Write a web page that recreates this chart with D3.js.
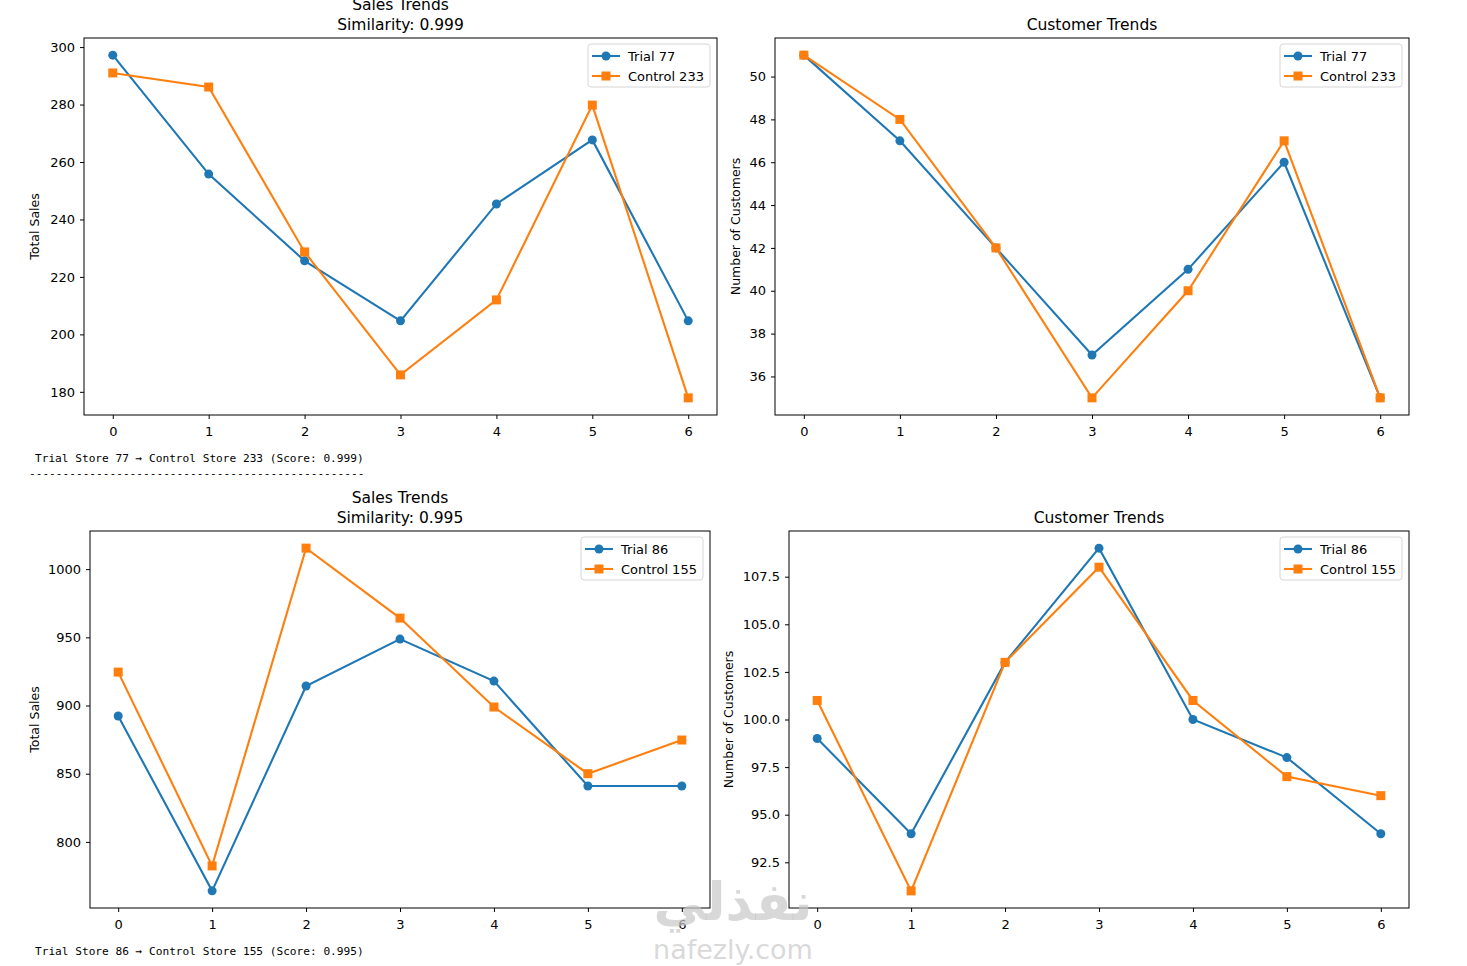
<!DOCTYPE html>
<html>
<head>
<meta charset="utf-8">
<script src="https://cdn.jsdelivr.net/npm/d3@7"></script>
<style>
  body { margin: 0; background: #fff; }
  .tick text { font-family: "DejaVu Sans", sans-serif; font-size: 13px; fill: #000; }
  .tick line { stroke: #000; }
  .domain { display: none; }
  .title { font-family: "DejaVu Sans", sans-serif; font-size: 15.5px; text-anchor: middle; }
  .ylab { font-family: "DejaVu Sans", sans-serif; font-size: 12.5px; text-anchor: middle; }
  .legtxt { font-family: "DejaVu Sans", sans-serif; font-size: 13px; }
  .mono { font-family: "DejaVu Sans Mono", monospace; font-size: 11.15px; }
</style>
</head>
<body>
<script>
// weeks on the x axis
const weeks = [0, 1, 2, 3, 4, 5, 6];

// pair 1: trial 77 vs control 233
const sales77 = [297.2, 255.8, 225.6, 204.7, 245.4, 267.7, 204.7];
const sales233 = [291.0, 286.1, 228.7, 185.9, 212.0, 279.8, 177.9];
const cust77 = [51, 47, 42, 37, 41, 46, 35];
const cust233 = [51, 48, 42, 35, 40, 47, 35];

// pair 2: trial 86 vs control 155
const sales86 = [892.3, 764.1, 914.3, 948.7, 917.9, 841.0, 841.0];
const sales155 = [924.5, 782.4, 1015.4, 964.1, 898.9, 850.0, 874.7];
const cust86 = [99, 94, 103, 109, 100, 98, 94];
const cust155 = [101, 91, 103, 108, 101, 97, 96];

// tick labels
const salesTicks1 = [180, 200, 220, 240, 260, 280, 300];
const custTicks1 = [36, 38, 40, 42, 44, 46, 48, 50];
const salesTicks2 = [800, 850, 900, 950, 1000];
const custTicks2 = [92.5, 95.0, 97.5, 100.0, 102.5, 105.0, 107.5];

const blue = '#1f77b4';
const orange = '#ff7f0e';

const svg = d3.select('body')
    .append('svg')
    .attr('width', 1467)
    .attr('height', 966);

// one panel = one matplotlib axes
function drawPanel(p) {
    const g = svg.append('g');

    const xScale = d3.scaleLinear()
        .domain([-0.3, 6.3])
        .range([p.left, p.right]);

    // 5% margin like matplotlib
    const ext = d3.extent(p.trial.concat(p.control));
    const pad = (ext[1] - ext[0]) * 0.05;
    const yScale = d3.scaleLinear()
        .domain([ext[0] - pad, ext[1] + pad])
        .range([p.bottom, p.top]);

    const xAxis = d3.axisBottom(xScale).tickValues(weeks).tickSize(4).tickPadding(8).tickFormat(d3.format('d'));
    g.append('g')
        .attr('transform', 'translate(0,' + p.bottom + ')')
        .call(xAxis);

    const yAxis = d3.axisLeft(yScale).tickValues(p.ticks).tickSize(4).tickPadding(5).tickFormat(p.fmt);
    g.append('g')
        .attr('transform', 'translate(' + p.left + ',0)')
        .call(yAxis);

    // frame
    g.append('rect')
        .attr('x', p.left)
        .attr('y', p.top)
        .attr('width', p.right - p.left)
        .attr('height', p.bottom - p.top)
        .attr('fill', 'none')
        .attr('stroke', '#000')
        .attr('stroke-width', 1);

    const line = d3.line()
        .x((d, i) => xScale(weeks[i]))
        .y((d) => yScale(d));

    // trial line + circles
    g.append('path')
        .attr('d', line(p.trial))
        .attr('fill', 'none')
        .attr('stroke', blue)
        .attr('stroke-width', 2.1);
    g.selectAll('circle.t')
        .data(p.trial)
        .enter()
        .append('circle')
        .attr('cx', (d, i) => xScale(weeks[i]))
        .attr('cy', (d) => yScale(d))
        .attr('r', 4.5)
        .attr('fill', blue);

    // control line + squares
    g.append('path')
        .attr('d', line(p.control))
        .attr('fill', 'none')
        .attr('stroke', orange)
        .attr('stroke-width', 2.1);
    g.selectAll('rect.c')
        .data(p.control)
        .enter()
        .append('rect')
        .attr('x', (d, i) => xScale(weeks[i]) - 4.5)
        .attr('y', (d) => yScale(d) - 4.5)
        .attr('width', 9)
        .attr('height', 9)
        .attr('fill', orange);

    // titles
    const cx = (p.left + p.right) / 2;
    p.title.forEach(function (t, i) {
        g.append('text')
            .attr('class', 'title')
            .attr('x', cx)
            .attr('y', p.top - 8 - (p.title.length - 1 - i) * 20)
            .text(t);
    });

    // y label
    g.append('text')
        .attr('class', 'ylab')
        .attr('transform', `translate(${p.ylabX}, ${(p.top + p.bottom) / 2}) rotate(-90)`)
        .text(p.ylabel);

    // legend
    const lw = 122, lh = 43;
    const lx = p.right - 7 - lw, ly = p.top + 6;
    const leg = g.append('g').attr('transform', `translate(${lx},${ly})`);
    leg.append('rect')
        .attr('width', lw)
        .attr('height', lh)
        .attr('rx', 3)
        .attr('fill', '#fff')
        .attr('fill-opacity', 0.8)
        .attr('stroke', '#d6d6d6');
    p.names.forEach(function (name, i) {
        const yy = 12 + i * 20;
        const col = i === 0 ? blue : orange;
        leg.append('line')
            .attr('x1', 4).attr('x2', 32)
            .attr('y1', yy).attr('y2', yy)
            .attr('stroke', col)
            .attr('stroke-width', 2.1);
        if (i === 0) {
            leg.append('circle').attr('cx', 18).attr('cy', yy).attr('r', 4.5).attr('fill', col);
        } else {
            leg.append('rect').attr('x', 13.5).attr('y', yy - 4.5).attr('width', 9).attr('height', 9).attr('fill', col);
        }
        leg.append('text')
            .attr('class', 'legtxt')
            .attr('x', 40)
            .attr('y', yy + 4.5)
            .text(name);
    });
}

drawPanel({
    left: 84, right: 717, top: 38, bottom: 415,
    trial: sales77, control: sales233, ticks: salesTicks1, fmt: d3.format('d'),
    title: ['Sales Trends', 'Similarity: 0.999'], ylabel: 'Total Sales', ylabX: 39,
    names: ['Trial 77', 'Control 233']
});
drawPanel({
    left: 775, right: 1409, top: 38, bottom: 415,
    trial: cust77, control: cust233, ticks: custTicks1, fmt: d3.format('d'),
    title: ['Customer Trends'], ylabel: 'Number of Customers', ylabX: 740,
    names: ['Trial 77', 'Control 233']
});
drawPanel({
    left: 90, right: 710, top: 531, bottom: 908,
    trial: sales86, control: sales155, ticks: salesTicks2, fmt: d3.format('d'),
    title: ['Sales Trends', 'Similarity: 0.995'], ylabel: 'Total Sales', ylabX: 39,
    names: ['Trial 86', 'Control 155']
});
drawPanel({
    left: 789, right: 1409, top: 531, bottom: 908,
    trial: cust86, control: cust155, ticks: custTicks2, fmt: d3.format('.1f'),
    title: ['Customer Trends'], ylabel: 'Number of Customers', ylabX: 733,
    names: ['Trial 86', 'Control 155']
});

// printed output lines between / under the figures
svg.append('text').attr('class', 'mono').attr('x', 35).attr('y', 462)
    .text('Trial Store 77 \u2192 Control Store 233 (Score: 0.999)');
svg.append('text').attr('class', 'mono').attr('x', 29).attr('y', 477)
    .text('-'.repeat(50));
svg.append('text').attr('class', 'mono').attr('x', 35).attr('y', 955)
    .text('Trial Store 86 \u2192 Control Store 155 (Score: 0.995)');

// watermark
svg.append('text')
    .attr('x', 733).attr('y', 920)
    .attr('text-anchor', 'middle')
    .attr('font-family', 'DejaVu Sans, sans-serif')
    .attr('font-weight', 'bold')
    .attr('font-size', 52)
    .attr('fill', '#c8c8c8')
    .attr('fill-opacity', 0.7)
    .text('نفذلي');
svg.append('text')
    .attr('x', 733).attr('y', 959)
    .attr('text-anchor', 'middle')
    .attr('font-family', 'DejaVu Sans, sans-serif')
    .attr('font-size', 27)
    .attr('fill', '#c8c8c8')
    .attr('fill-opacity', 0.7)
    .text('nafezly.com');
</script>
</body>
</html>
